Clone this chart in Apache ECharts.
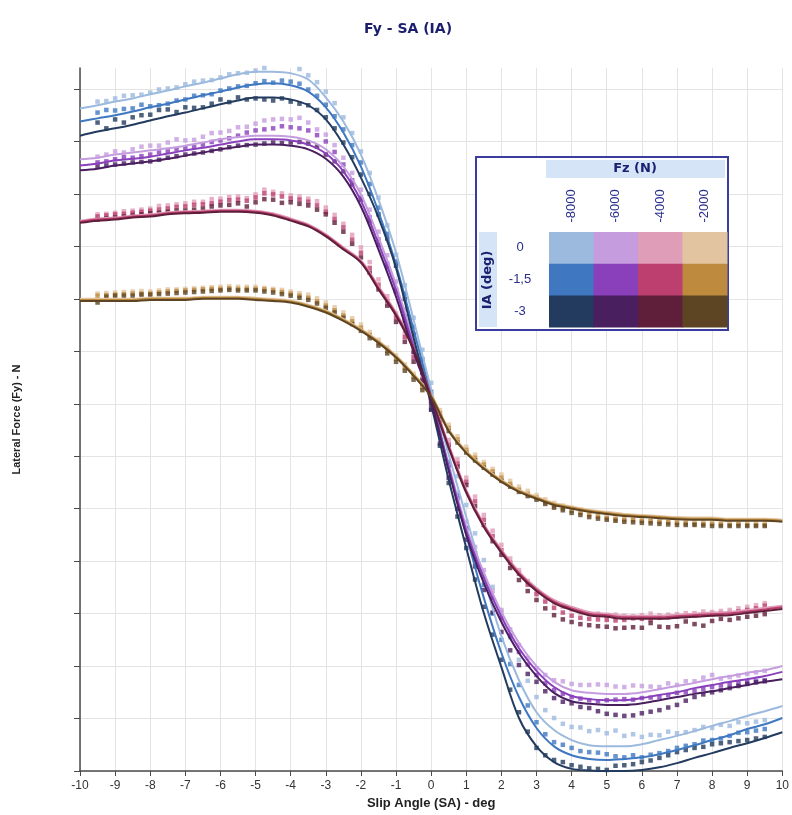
<!DOCTYPE html>
<html><head><meta charset="utf-8">
<script src="https://cdn.jsdelivr.net/npm/echarts@6.0.0/dist/echarts.min.js"></script>
<style>html,body{margin:0;padding:0;background:#fff}#c{width:792px;height:815px}</style>
</head><body><div id="c"></div>
<script>
// ---------- data ----------
const fzLabels = ['-8000','-6000','-4000','-2000'];
const iaLabels = ['0','-1,5','-3'];
const yTicks = [-7000,-6000,-5000,-4000,-3000,-2000,-1000,0,1000,2000,3000,4000,5000,6000];

const lineSA = [-10,-9.5,-9,-8.5,-8,-7.5,-7,-6.5,-6,-5.5,-5,-4.5,-4,-3.5,-3,-2.5,-2,-1.5,-1,-0.5,0,0.5,1,1.5,2,2.5,3,3.5,4,4.5,5,5.5,6,6.5,7,7.5,8,8.5,9,9.5,10];
const measSA = [-9.5,-9.25,-9,-8.75,-8.5,-8.25,-8,-7.75,-7.5,-7.25,-7,-6.75,-6.5,-6.25,-6,-5.75,-5.5,-5.25,-5,-4.75,-4.5,-4.25,-4,-3.75,-3.5,-3.25,-3,-2.75,-2.5,-2.25,-2,-1.75,-1.5,-1.25,-1,-0.75,-0.5,-0.25,0,0.25,0.5,0.75,1,1.25,1.5,1.75,2,2.25,2.5,2.75,3,3.25,3.5,3.75,4,4.25,4.5,4.75,5,5.25,5.5,5.75,6,6.25,6.5,6.75,7,7.25,7.5,7.75,8,8.25,8.5,8.75,9,9.25,9.5];

// fitted curves (Fy, N)
const fit_8000_0   = [5630,5690,5760,5820,5900,5970,6050,6120,6200,6280,6330,6330,6300,6180,5840,5380,4750,3890,2880,1600,270,-970,-2160,-3320,-4430,-5270,-5880,-6220,-6410,-6510,-6530,-6530,-6490,-6410,-6330,-6240,-6140,-6050,-5950,-5860,-5760];
const fit_8000_15  = [5380,5440,5500,5570,5650,5720,5800,5880,5950,6030,6090,6110,6070,5950,5650,5170,4520,3660,2650,1410,130,-1220,-2500,-3700,-4750,-5590,-6180,-6530,-6700,-6770,-6790,-6770,-6740,-6680,-6600,-6510,-6410,-6320,-6200,-6110,-5990];
const fit_8000_3   = [5110,5190,5250,5320,5400,5480,5550,5630,5710,5780,5840,5840,5800,5690,5420,4940,4310,3550,2590,1260,-20,-1450,-2750,-3990,-5020,-5990,-6530,-6830,-6960,-6990,-7000,-7000,-6980,-6930,-6850,-6750,-6660,-6560,-6470,-6370,-6260];
const fit_6000_0   = [4660,4690,4750,4790,4830,4870,4920,4980,5040,5080,5110,5110,5090,5020,4850,4520,3990,3170,2270,1180,110,-1160,-2350,-3220,-3970,-4560,-5000,-5300,-5460,-5510,-5530,-5530,-5500,-5440,-5380,-5320,-5250,-5190,-5130,-5080,-5000];
const fit_6000_15  = [4540,4580,4640,4670,4710,4770,4830,4880,4940,5000,5040,5040,5020,4940,4770,4430,3870,3050,2160,1090,80,-1220,-2420,-3320,-4060,-4660,-5090,-5400,-5570,-5630,-5650,-5650,-5610,-5550,-5500,-5420,-5360,-5300,-5250,-5190,-5110];
const fit_6000_3   = [4450,4480,4540,4580,4620,4670,4730,4790,4850,4900,4940,4940,4920,4850,4670,4330,3760,2940,2040,990,40,-1280,-2500,-3420,-4160,-4750,-5190,-5510,-5670,-5720,-5740,-5740,-5710,-5650,-5590,-5530,-5480,-5420,-5360,-5300,-5250];
const fit_4000_0   = [3490,3530,3550,3590,3610,3650,3670,3680,3700,3700,3680,3630,3530,3420,3230,2980,2730,2240,1740,1090,170,-780,-1640,-2290,-2780,-3200,-3510,-3740,-3870,-3970,-4000,-4040,-4040,-4040,-4020,-4000,-3980,-3970,-3930,-3890,-3850];
const fit_4000_15  = [3470,3510,3530,3570,3590,3630,3650,3660,3680,3680,3660,3610,3510,3400,3210,2960,2710,2210,1710,1060,140,-810,-1670,-2320,-2810,-3230,-3540,-3770,-3900,-4000,-4030,-4070,-4070,-4070,-4050,-4030,-4010,-4000,-3960,-3920,-3880];
const fit_4000_3   = [3450,3490,3510,3550,3570,3610,3630,3640,3660,3660,3640,3590,3490,3380,3190,2940,2690,2180,1680,1030,110,-840,-1700,-2350,-2840,-3260,-3570,-3800,-3930,-4030,-4060,-4100,-4100,-4100,-4080,-4060,-4040,-4030,-3990,-3950,-3910];
const fit_2000_0   = [2000,2000,2000,2000,2020,2020,2020,2040,2040,2040,2020,2000,1970,1890,1780,1620,1430,1200,920,570,170,-480,-900,-1200,-1450,-1640,-1770,-1890,-1960,-2020,-2060,-2100,-2120,-2140,-2160,-2170,-2170,-2190,-2190,-2190,-2210];
const fit_2000_15  = [1980,1980,1980,1980,2000,2000,2000,2020,2020,2020,2000,1980,1950,1870,1760,1600,1410,1180,900,550,150,-500,-920,-1220,-1470,-1660,-1790,-1910,-1980,-2040,-2080,-2120,-2140,-2160,-2180,-2190,-2190,-2210,-2210,-2210,-2230];
const fit_2000_3   = [1960,1960,1960,1960,1980,1980,1980,2000,2000,2000,1980,1960,1930,1850,1740,1580,1390,1160,880,530,130,-520,-940,-1240,-1490,-1680,-1810,-1930,-2000,-2060,-2100,-2140,-2160,-2180,-2200,-2210,-2210,-2230,-2230,-2230,-2250];

// measured points (Fy, N), one every 0.25 deg
const meas_8000_0  = [5760,5770,5820,5870,5880,5890,5930,5990,6010,6030,6090,6140,6160,6170,6220,6280,6300,6310,6350,6400,6410,6450,6410,6380,6260,6130,5950,5730,5460,5160,4810,4400,3930,3400,2840,2260,1640,1030,400,-230,-820,-1380,-1930,-2470,-2980,-3490,-3970,-4450,-4880,-5280,-5590,-5840,-5990,-6100,-6160,-6170,-6240,-6220,-6280,-6230,-6330,-6300,-6350,-6310,-6320,-6250,-6280,-6260,-6220,-6160,-6180,-6120,-6140,-6070,-6090,-6060,-6030];
const meas_8000_15 = [5550,5600,5590,5620,5630,5700,5670,5690,5720,5780,5800,5870,5880,5900,5970,6010,6050,6060,6110,6150,6120,6160,6140,6100,5990,5870,5700,5480,5230,4930,4600,4190,3740,3240,2710,2100,1470,850,230,-440,-1110,-1750,-2370,-2930,-3450,-4000,-4500,-4960,-5360,-5750,-6070,-6300,-6450,-6500,-6560,-6620,-6640,-6650,-6680,-6720,-6740,-6700,-6740,-6690,-6660,-6620,-6560,-6520,-6490,-6420,-6410,-6380,-6330,-6270,-6260,-6230,-6200];
const meas_8000_3  = [5360,5250,5420,5360,5460,5500,5510,5600,5610,5560,5650,5640,5650,5720,5800,5750,5840,5800,5820,5800,5780,5820,5760,5720,5690,5600,5460,5250,4980,4700,4370,4000,3610,3150,2630,2000,1320,600,-110,-800,-1510,-2150,-2750,-3350,-3870,-4400,-4880,-5450,-5880,-6250,-6560,-6700,-6790,-6830,-6890,-6920,-6950,-6960,-6980,-6900,-6890,-6870,-6830,-6800,-6750,-6700,-6640,-6600,-6560,-6540,-6490,-6470,-6450,-6430,-6410,-6380,-6350];
const meas_6000_0  = [4710,4750,4810,4790,4850,4900,4920,4920,4980,5040,5020,5030,5090,5160,5170,5200,5270,5280,5340,5400,5420,5430,5420,5450,5360,5230,5130,4930,4690,4400,4080,3700,3280,2830,2330,1800,1220,660,110,-500,-1110,-1700,-2250,-2730,-3170,-3570,-3930,-4300,-4600,-4850,-5040,-5170,-5270,-5290,-5340,-5360,-5360,-5350,-5360,-5390,-5400,-5370,-5380,-5390,-5400,-5330,-5360,-5290,-5290,-5220,-5170,-5240,-5210,-5180,-5150,-5120,-5090];
const meas_6000_15 = [4600,4620,4660,4700,4690,4720,4750,4790,4810,4850,4870,4900,4940,4990,5020,5060,5110,5170,5210,5230,5250,5290,5270,5250,5210,5120,5000,4800,4560,4260,3930,3550,3130,2670,2180,1660,1130,600,80,-540,-1180,-1800,-2370,-2850,-3300,-3700,-4080,-4420,-4730,-4970,-5170,-5330,-5460,-5530,-5590,-5620,-5650,-5670,-5650,-5640,-5630,-5640,-5610,-5600,-5590,-5550,-5510,-5500,-5480,-5440,-5400,-5370,-5340,-5320,-5300,-5290,-5270];
const meas_6000_3  = [4520,4540,4560,4580,4600,4610,4620,4650,4690,4720,4750,4770,4790,4820,4850,4890,4920,4930,4940,4960,4980,4970,4980,4990,4960,4900,4750,4620,4430,4180,3890,3480,3030,2600,2140,1580,990,440,-110,-760,-1410,-2000,-2590,-3100,-3550,-3980,-4350,-4700,-4980,-5150,-5300,-5480,-5610,-5680,-5710,-5780,-5800,-5860,-5910,-5930,-5950,-5940,-5900,-5870,-5840,-5790,-5740,-5660,-5590,-5540,-5500,-5460,-5420,-5380,-5340,-5310,-5290];
const meas_4000_0  = [3610,3620,3640,3670,3680,3700,3720,3770,3780,3800,3820,3850,3850,3900,3910,3940,3950,3920,3990,4080,4040,4010,3970,3950,3910,3860,3740,3600,3430,3220,2980,2700,2370,2050,1720,1350,950,540,110,-300,-690,-1060,-1410,-1770,-2120,-2420,-2690,-2950,-3170,-3380,-3550,-3680,-3800,-3870,-3930,-3980,-4010,-4000,-4040,-4020,-4040,-4050,-4030,-4000,-4030,-4020,-4010,-3990,-3990,-3960,-3970,-3950,-3930,-3900,-3870,-3840,-3800];
const meas_4000_15 = [3570,3590,3610,3620,3640,3660,3680,3700,3720,3750,3760,3790,3800,3820,3850,3880,3890,3870,3930,4010,3990,3950,3910,3890,3850,3780,3660,3520,3360,3130,2880,2590,2270,1960,1640,1270,880,460,40,-370,-780,-1140,-1490,-1860,-2210,-2520,-2790,-3030,-3240,-3450,-3630,-3770,-3890,-3980,-4040,-4080,-4100,-4110,-4120,-4130,-4120,-4090,-4100,-4110,-4080,-4070,-4060,-4050,-4040,-4020,-4010,-4000,-3990,-3960,-3930,-3900,-3850];
const meas_4000_3  = [3510,3530,3550,3570,3590,3610,3630,3640,3660,3680,3680,3700,3720,3760,3780,3790,3820,3760,3840,3900,3890,3830,3840,3810,3780,3700,3610,3450,3280,3050,2790,2500,2180,1870,1560,1180,800,390,-20,-430,-840,-1200,-1550,-1950,-2310,-2620,-2880,-3130,-3360,-3570,-3740,-3900,-4030,-4110,-4160,-4200,-4220,-4240,-4250,-4280,-4270,-4260,-4270,-4180,-4250,-4260,-4240,-4150,-4200,-4230,-4140,-4100,-4120,-4090,-4060,-4040,-4010];
const meas_2000_0  = [2100,2110,2120,2130,2140,2150,2140,2160,2180,2180,2190,2200,2210,2220,2230,2240,2230,2230,2230,2210,2190,2170,2140,2110,2080,2010,1930,1840,1740,1630,1510,1370,1220,1070,920,750,570,380,170,-120,-400,-620,-820,-970,-1110,-1240,-1350,-1470,-1580,-1660,-1740,-1820,-1890,-1940,-1980,-2020,-2060,-2090,-2120,-2140,-2160,-2180,-2190,-2200,-2210,-2220,-2230,-2240,-2250,-2250,-2250,-2260,-2270,-2260,-2270,-2270,-2270];
const meas_2000_15 = [2060,2070,2080,2090,2100,2100,2100,2120,2140,2150,2160,2170,2180,2190,2190,2200,2190,2190,2190,2180,2160,2130,2100,2060,2020,1950,1870,1780,1680,1570,1450,1310,1160,1010,860,690,520,320,110,-180,-460,-680,-880,-1030,-1160,-1290,-1410,-1530,-1640,-1720,-1790,-1880,-1950,-2000,-2040,-2080,-2120,-2150,-2180,-2200,-2210,-2220,-2230,-2240,-2250,-2260,-2270,-2280,-2290,-2290,-2290,-2300,-2310,-2300,-2310,-2310,-2310];
const meas_2000_3  = [1930,2040,2060,2060,2060,2080,2080,2090,2100,2110,2120,2130,2140,2150,2160,2170,2160,2160,2160,2140,2120,2090,2060,2020,1980,1910,1830,1740,1640,1520,1390,1250,1110,960,800,630,460,260,60,-240,-520,-740,-930,-1080,-1220,-1350,-1470,-1580,-1680,-1760,-1830,-1910,-1980,-2030,-2080,-2120,-2160,-2190,-2210,-2230,-2250,-2260,-2270,-2280,-2290,-2300,-2310,-2310,-2310,-2320,-2330,-2330,-2330,-2330,-2330,-2330,-2330];

// colours: rows = IA (0, -1.5, -3), columns = Fz
const palette = [
  ['#9cb9de','#c59ddf','#e09db8','#e2c5a0'],
  ['#3f78c1','#8a40bb','#bd3f6f','#be8a3e'],
  ['#223b5e','#4a1f60','#5f1f3a','#5d4422']
];

const fits = [
  [fit_8000_0, fit_6000_0, fit_4000_0, fit_2000_0],
  [fit_8000_15, fit_6000_15, fit_4000_15, fit_2000_15],
  [fit_8000_3, fit_6000_3, fit_4000_3, fit_2000_3]
];
const meas = [
  [meas_8000_0, meas_6000_0, meas_4000_0, meas_2000_0],
  [meas_8000_15, meas_6000_15, meas_4000_15, meas_2000_15],
  [meas_8000_3, meas_6000_3, meas_4000_3, meas_2000_3]
];

// ---------- series ----------
const series = [];
for (let r = 0; r < 3; r++) {
  for (let c = 0; c < 4; c++) {
    series.push({
      type: 'scatter', name: 'meas ' + fzLabels[c] + ' / ' + iaLabels[r],
      data: measSA.map((x, i) => [x, meas[r][c][i]]),
      symbol: 'rect', symbolSize: 4.5, z: 2 + r,
      itemStyle: { color: palette[r][c] }, silent: true
    });
  }
}
for (let r = 0; r < 3; r++) {
  for (let c = 0; c < 4; c++) {
    series.push({
      type: 'line', name: 'fit ' + fzLabels[c] + ' / ' + iaLabels[r],
      data: lineSA.map((x, i) => [x, fits[r][c][i]]),
      smooth: 0.35, showSymbol: false, z: 6 + r,
      lineStyle: { color: palette[r][c], width: 2 }, silent: true
    });
  }
}

// ---------- legend table (graphic) ----------
const LX = 549, LY = 232, CW = 44.5, CH = 31.7;
const graphic = [
  { type: 'rect', z: 100, shape: { x: 476, y: 157, width: 252, height: 173 },
    style: { fill: '#fff', stroke: '#3a3d9e', lineWidth: 2 } },
  { type: 'rect', z: 101, shape: { x: 546, y: 160, width: 179, height: 18 }, style: { fill: '#d6e4f7' } },
  { type: 'text', z: 102, x: 635, y: 169,
    style: { text: 'Fz (N)', font: 'bold 13px "DejaVu Sans"', fill: '#1c2070', align: 'center', verticalAlign: 'middle' } },
  { type: 'rect', z: 101, shape: { x: 479, y: 232, width: 18, height: 95 }, style: { fill: '#d6e4f7' } },
  { type: 'text', z: 102, x: 488, y: 280, rotation: Math.PI / 2,
    style: { text: 'IA (deg)', font: 'bold 13px "DejaVu Sans"', fill: '#1c2070', align: 'center', verticalAlign: 'middle' } }
];
fzLabels.forEach((t, c) => {
  graphic.push({ type: 'text', z: 102, x: LX + CW * c + CW / 2, y: 206, rotation: Math.PI / 2,
    style: { text: t, font: '13px "Liberation Sans"', fill: '#2a2f8c', align: 'center', verticalAlign: 'middle' } });
});
iaLabels.forEach((t, r) => {
  graphic.push({ type: 'text', z: 102, x: 520, y: LY + CH * r + CH / 2,
    style: { text: t, font: '13px "Liberation Sans"', fill: '#2a2f8c', align: 'center', verticalAlign: 'middle' } });
  for (let c = 0; c < 4; c++) {
    graphic.push({ type: 'rect', z: 101,
      shape: { x: LX + CW * c, y: LY + CH * r, width: CW + 0.5, height: CH + 0.5 },
      style: { fill: palette[r][c] } });
  }
});

const axisLineStyle = { color: '#4a4a4a', width: 1.5 };
const chart = echarts.init(document.getElementById('c'), null, { renderer: 'canvas' });
chart.setOption({
  animation: false,
  backgroundColor: '#fff',
  title: { text: 'Fy - SA (IA)', left: 403, top: 17, textAlign: 'center',
    textStyle: { fontFamily: 'DejaVu Sans', fontWeight: 'bold', fontSize: 14, color: '#1c1f6c' } },
  grid: { left: 80, right: 6, top: 68, bottom: 44 },
  xAxis: {
    type: 'value', min: -10, max: 10, interval: 1,
    name: 'Slip Angle (SA) - deg', nameLocation: 'middle', nameGap: 25,
    nameTextStyle: { fontFamily: 'Liberation Sans Narrow, Liberation Sans', fontWeight: 'bold', fontSize: 13, color: '#222' },
    axisLine: { onZero: false, lineStyle: axisLineStyle },
    axisTick: { show: true, length: 5, lineStyle: { color: '#4a4a4a' } },
    axisLabel: { fontFamily: 'Liberation Sans Narrow, Liberation Sans', fontSize: 12, color: '#333', margin: 9 },
    splitLine: { show: true, lineStyle: { color: '#e4e4e4', width: 1 } }
  },
  yAxis: {
    type: 'value', min: -7000, max: 6400, interval: 1000,
    name: 'Lateral Force (Fy) - N', nameLocation: 'middle', nameGap: 58, nameRotate: 90,
    nameTextStyle: { fontFamily: 'Liberation Sans', fontWeight: 'bold', fontSize: 11, color: '#222' },
    axisLine: { onZero: false, lineStyle: axisLineStyle },
    axisTick: { show: true, length: 6, customValues: yTicks, lineStyle: { color: '#4a4a4a' } },
    axisLabel: { show: false },
    splitLine: { show: true, lineStyle: { color: '#e4e4e4', width: 1 } }
  },
  series: series,
  graphic: graphic
});
</script>
</body></html>
